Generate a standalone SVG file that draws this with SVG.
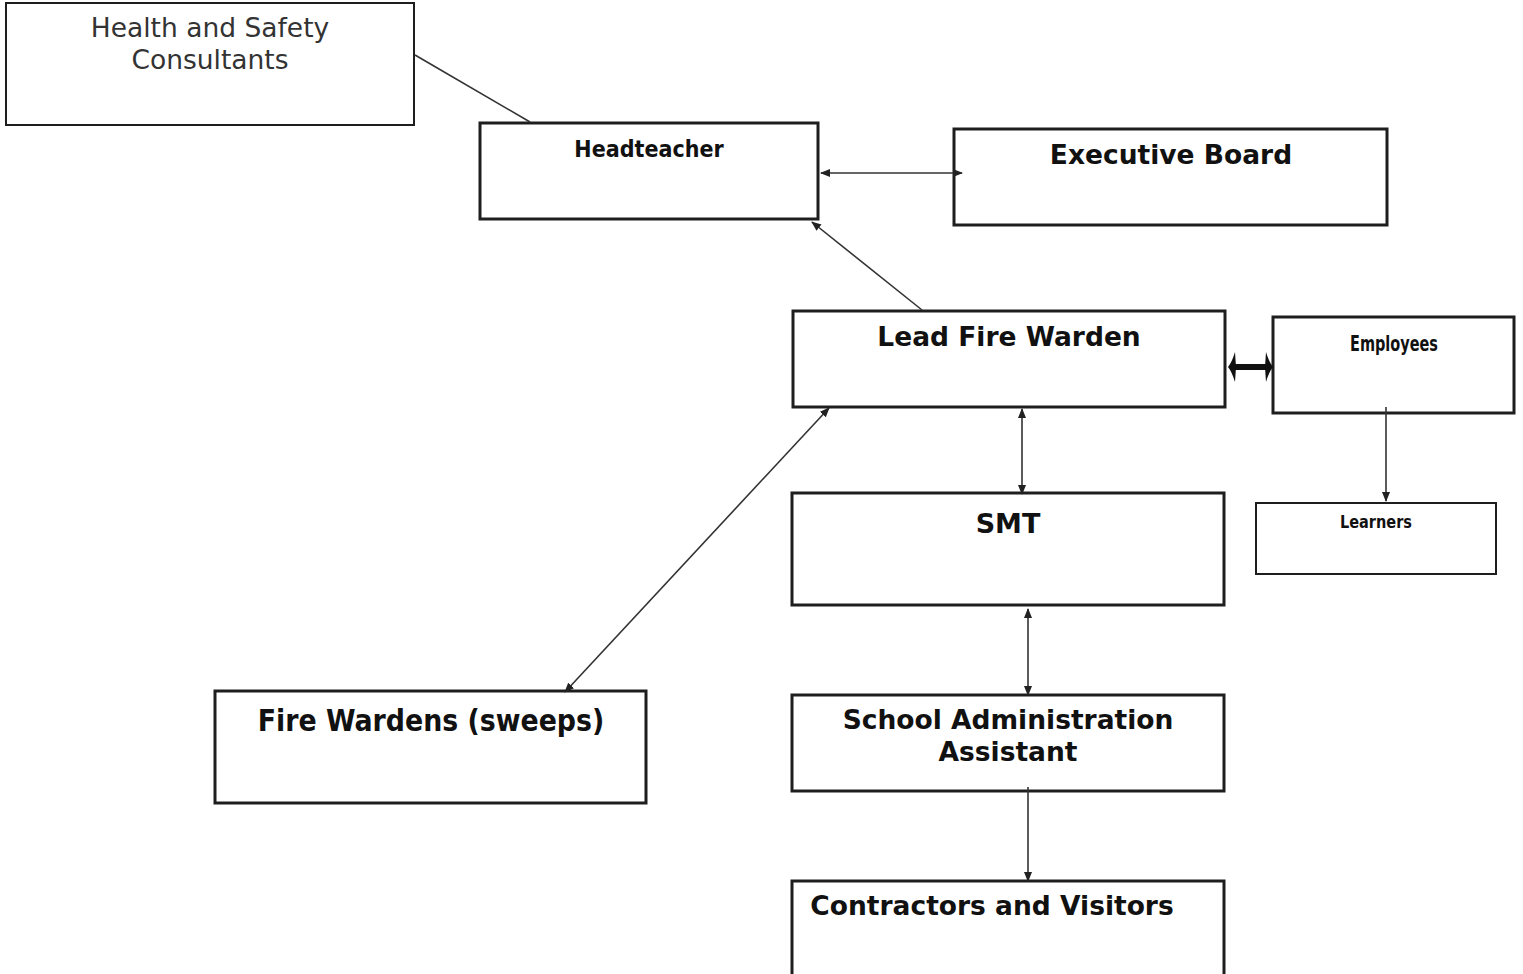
<svg xmlns="http://www.w3.org/2000/svg" width="1523" height="974" viewBox="0 0 1523 974">
<style>
.box{fill:#fff;stroke:#1e1e1e;stroke-width:3}
.thin{fill:#fff;stroke:#1e1e1e;stroke-width:2}
.v{font-family:"DejaVu Sans",Verdana,sans-serif;font-weight:bold;fill:#111;text-anchor:middle}
.c{font-family:"DejaVu Sans Condensed","DejaVu Sans",sans-serif;font-weight:bold;fill:#111;text-anchor:middle}
.n{font-family:"DejaVu Sans",Verdana,sans-serif;fill:#333;text-anchor:middle}
.ln{stroke:#333;stroke-width:1.6;fill:none}
</style>
<defs>
<marker id="ah" markerWidth="10" markerHeight="8" refX="9" refY="4" orient="auto-start-reverse" markerUnits="userSpaceOnUse">
<path d="M0,0 L10,4 L0,8 Z" fill="#222"/>
</marker>
<marker id="ahb" markerWidth="8" markerHeight="32" refX="6" refY="16" orient="auto-start-reverse" markerUnits="userSpaceOnUse">
<path d="M1,1 Q4,11 8,16 Q4,21 1,31 L0,16 Z" fill="#111"/>
</marker>
</defs>
<rect width="1523" height="974" fill="#fff"/>
<g id="hs">
<rect class="thin" x="6" y="3" width="408" height="122"/>
<text class="n" x="210" y="37" font-size="26.5">Health and Safety</text>
<text class="n" x="210" y="69" font-size="26.5">Consultants</text>
</g>
<g id="headteacher">
<rect class="box" x="480" y="123" width="338" height="96"/>
<text class="c" x="649" y="157" font-size="23">Headteacher</text>
</g>
<g id="executive">
<rect class="box" x="954" y="129" width="433" height="96"/>
<text class="v" x="1171" y="164" font-size="26.5">Executive Board</text>
</g>
<g id="leadfire">
<rect class="box" x="793" y="311" width="432" height="96"/>
<text class="v" x="1009" y="346" font-size="26.5">Lead Fire Warden</text>
</g>
<g id="employees">
<rect class="box" x="1273" y="317" width="241" height="96"/>
<text class="c" x="1394" y="351" font-size="21" textLength="88" lengthAdjust="spacingAndGlyphs">Employees</text>
</g>
<g id="learners">
<rect class="thin" x="1256" y="503" width="240" height="71"/>
<text class="c" x="1376" y="528" font-size="17" textLength="72" lengthAdjust="spacingAndGlyphs">Learners</text>
</g>
<g id="smt">
<rect class="box" x="792" y="493" width="432" height="112"/>
<text class="v" x="1008" y="533" font-size="27">SMT</text>
</g>
<g id="fireWardens">
<rect class="box" x="215" y="691" width="431" height="112"/>
<text class="c" x="431" y="731" font-size="29.8">Fire Wardens (sweeps)</text>
</g>
<g id="admin">
<rect class="box" x="792" y="695" width="432" height="96"/>
<text class="v" x="1008" y="729" font-size="26.5">School Administration</text>
<text class="v" x="1008" y="761" font-size="26.5">Assistant</text>
</g>
<g id="contractors">
<rect class="box" x="792" y="881" width="432" height="100"/>
<text class="v" x="992" y="915" font-size="26.5">Contractors and Visitors</text>
</g>
<g id="connectors">
<line class="ln" x1="415" y1="55" x2="530" y2="122"/>
<line class="ln" x1="821" y1="173" x2="962" y2="173" marker-start="url(#ah)" marker-end="url(#ah)"/>
<line class="ln" x1="922" y1="310" x2="812" y2="222" marker-end="url(#ah)"/>
<line class="ln" x1="829" y1="408" x2="565" y2="692" marker-start="url(#ah)" marker-end="url(#ah)"/>
<line class="ln" x1="1022" y1="409" x2="1022" y2="494" marker-start="url(#ah)" marker-end="url(#ah)"/>
<line class="ln" x1="1028" y1="609" x2="1028" y2="695" marker-start="url(#ah)" marker-end="url(#ah)"/>
<line class="ln" x1="1028" y1="787" x2="1028" y2="881" marker-end="url(#ah)"/>
<line class="ln" x1="1386" y1="407" x2="1386" y2="501" marker-end="url(#ah)"/>
<line x1="1230" y1="367" x2="1271" y2="367" stroke="#111" stroke-width="6" marker-start="url(#ahb)" marker-end="url(#ahb)"/>
</g>
</svg>
